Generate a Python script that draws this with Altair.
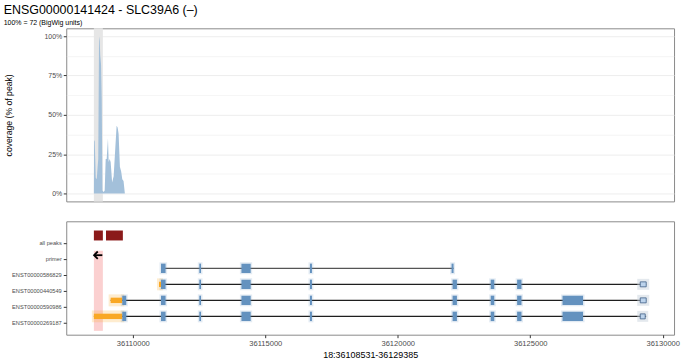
import altair as alt
import pandas as pd

TITLE = "ENSG00000141424 - SLC39A6 (–)"
SUBTITLE = "100% = 72 (BigWig units)"
X_TITLE = "18:36108531-36129385"
Y_TITLE = "coverage (% of peak)"

region_start = 36108531
region_end = 36129385

# coverage track (genomic position, % of peak)
cov_pos = [36108531, 36108538, 36108565, 36108583, 36108602, 36108639, 36108677, 36108696,
           36108726, 36108752, 36108771, 36108801, 36108827, 36108853, 36108902, 36108939,
           36108977, 36109014, 36109063, 36109089, 36109127, 36109164, 36109220, 36109277,
           36109389, 36109427, 36109464, 36109513, 36109561, 36109603, 36109651, 36109700]
cov_pct = [0, 34, 33, 22, 10, 9, 18, 22,
           100, 97, 88, 82, 60, 2, 1, 2,
           22, 22, 35, 20, 22, 20, 7, 11,
           43, 42, 38, 17, 14, 9, 8, 0]

# rows of the lower panel, bottom to top
row_names = ["ENST00000269187", "ENST00000590986", "ENST00000440549",
             "ENST00000586829", "primer", "all peaks"]

peak_start = [36108531, 36108988]
peak_end = [36108870, 36109625]

primer_start = [36108538]
primer_end = [36108850]

tx_ids = ["ENST00000586829", "ENST00000440549", "ENST00000590986", "ENST00000269187"]
tx_start = [36111064, 36110989, 36109164, 36108531]
tx_end = [36122106, 36129377, 36129377, 36129377]
tx_line_color = ["#555555", "#1f1f1f", "#1f1f1f", "#1f1f1f"]

exons_586829 = [(36111064, 36111237), (36112511, 36112575), (36114100, 36114449),
                (36116686, 36116761), (36122031, 36122106)]
exons_440549 = [(36111064, 36111237), (36112511, 36112575), (36114100, 36114449),
                (36116686, 36116761), (36122069, 36122233), (36123508, 36123643),
                (36124505, 36124670)]
exons_590986 = [(36109603, 36109753), (36111064, 36111237), (36112511, 36112575),
                (36114100, 36114449), (36116686, 36116761), (36122069, 36122233),
                (36123508, 36123643), (36124505, 36124670), (36126218, 36126993)]
exons_269187 = [(36109603, 36109753), (36111064, 36111237), (36112511, 36112575),
                (36114100, 36114449), (36116686, 36116761), (36122069, 36122233),
                (36123508, 36123643), (36124505, 36124670), (36126218, 36126993)]

utr_tx = ["ENST00000440549", "ENST00000590986", "ENST00000269187"]
utr_start = [36110989, 36109164, 36108531]
utr_end = [36111064, 36109603, 36109603]

endbox_tx = ["ENST00000440549", "ENST00000590986", "ENST00000269187"]
endbox_start = [36129152, 36129152, 36129152]
endbox_end = [36129377, 36129377, 36129340]

x_major = [36110000, 36115000, 36120000, 36125000, 36130000]
x_minor = [36112500, 36117500, 36122500, 36127500]
y_major = [0, 0.25, 0.5, 0.75, 1.0]
y_minor = [0.125, 0.375, 0.625, 0.875]

# ---------------------------------------------------------------- tables
row_of = {n: i + 1 for i, n in enumerate(row_names)}

cov_df = pd.DataFrame({"pos": cov_pos, "frac": [v / 100 for v in cov_pct]})
peak_df = pd.DataFrame({"start": peak_start, "end": peak_end,
                        "row": row_of["all peaks"]})
hl_df = pd.DataFrame({"start": peak_start[:1], "end": peak_end[:1],
                      "lo": min(row_of.values()) - 0.5,
                      "hi": max(row_of.values()) - 0.5})
primer_df = pd.DataFrame({"start": primer_start, "end": primer_end,
                          "row": row_of["primer"]})
tx_df = pd.DataFrame({"tx": tx_ids, "start": tx_start, "end": tx_end, "col": tx_line_color})
tx_df["row"] = tx_df["tx"].map(row_of)

ex_rows = []
for tx, exs in [("ENST00000586829", exons_586829), ("ENST00000440549", exons_440549),
                ("ENST00000590986", exons_590986), ("ENST00000269187", exons_269187)]:
    for s, e in exs:
        ex_rows.append({"tx": tx, "start": s, "end": e, "row": row_of[tx]})
ex_df = pd.DataFrame(ex_rows)
utr_df = pd.DataFrame({"tx": utr_tx, "start": utr_start, "end": utr_end})
utr_df["row"] = utr_df["tx"].map(row_of)
eb_df = pd.DataFrame({"tx": endbox_tx, "start": endbox_start, "end": endbox_end})
eb_df["row"] = eb_df["tx"].map(row_of)

# ---------------------------------------------------------------- styling
FONT = "Liberation Sans"
W = 611
TOP_H = 174
BOT_H = 114
BLUE = "#6492BF"
ORANGE = "#F9A825"
LABEL_C = "#4D4D4D"

span = region_end - region_start
x_scale = alt.Scale(domain=[region_start - 0.05 * span, region_end + 0.05 * span],
                    nice=False, zero=False)

x_is_major = "datum.value % 5000 === 0"
y_is_major = "abs(datum.value * 4 - round(datum.value * 4)) < 0.000001"

top_x_vals = sorted(x_major + x_minor)
top_x_axis = alt.Axis(
    values=top_x_vals, tickCount=len(top_x_vals), title=None, labelFlush=False,
    labelExpr=f"{x_is_major} ? format(datum.value, 'd') : ''",
    labelFontSize=7.6, labelColor=LABEL_C, labelPadding=2,
    tickSize=3, tickColor="#333333",
    tickOpacity={"condition": {"test": x_is_major, "value": 1}, "value": 0},
    grid=True, gridColor="#EBEBEB",
    gridWidth={"condition": {"test": x_is_major, "value": 0.9}, "value": 0.5},
    domain=False, labelOverlap=False,
)
top_y_vals = sorted(y_major + y_minor)
top_y_axis = alt.Axis(
    values=top_y_vals, tickCount=len(top_y_vals), title=Y_TITLE,
    labelExpr=f"{y_is_major} ? format(datum.value, '.0%') : ''",
    labelFontSize=7.0, labelColor=LABEL_C, labelPadding=1.5,
    tickSize=3, tickColor="#333333",
    tickOpacity={"condition": {"test": y_is_major, "value": 1}, "value": 0},
    grid=True, gridColor="#EBEBEB",
    gridWidth={"condition": {"test": y_is_major, "value": 0.9}, "value": 0.5},
    domain=False, labelOverlap=False,
    titleFontSize=8.7, titleFontWeight=400, titleColor="black", titlePadding=31,
)

band = alt.Chart(hl_df).mark_rect(color="#E6E6E6").encode(
    x=alt.X("start:Q", scale=x_scale, axis=None),
    x2="end:Q",
    y=alt.value(0), y2=alt.value(TOP_H),
)
area = alt.Chart(cov_df).mark_area(color="#A3C0DA", opacity=1).encode(
    x=alt.X("pos:Q", scale=x_scale, axis=top_x_axis),
    y=alt.Y("frac:Q", scale=alt.Scale(domain=[-0.05, 1.05], nice=False, zero=False),
            axis=top_y_axis),
)
top = alt.layer(band, area).properties(width=W, height=TOP_H)

# lower panel
y_scale_b = alt.Scale(domain=[min(row_of.values()) - 0.74, max(row_of.values()) + 1.34],
                      nice=False, zero=False)
label_expr = " : ".join(f"datum.value == {row_of[n]} ? '{n}'" for n in row_names) + " : ''"
bot_y_vals = sorted(row_of.values())
bot_y_axis = alt.Axis(values=bot_y_vals, tickCount=len(bot_y_vals), title=None,
                      labelExpr=label_expr,
                      labelFontSize=5.7, labelColor=LABEL_C, labelPadding=2,
                      labelOverlap=False,
                      tickSize=3, tickColor="#333333", grid=False, domain=False)
bot_x_axis = alt.Axis(values=x_major, tickCount=len(x_major), format="d", title=X_TITLE,
                      labelFlush=False,
                      labelFontSize=7.6, labelColor=LABEL_C, labelPadding=2,
                      labelOverlap=False,
                      tickSize=3, tickColor="#333333", grid=False, domain=False,
                      titleFontSize=9, titleFontWeight=400, titleColor="black",
                      titlePadding=3)

hl = alt.Chart(hl_df).mark_rect(color="#FBD0D0").encode(
    x=alt.X("start:Q", scale=x_scale, axis=bot_x_axis),
    x2="end:Q",
    y=alt.Y("lo:Q", scale=y_scale_b, axis=bot_y_axis),
    y2="hi:Q",
)
peaks = alt.Chart(peak_df).mark_rect(color="#8B1A1A", yOffset=-12.3, y2Offset=-2.3).encode(
    x="start:Q", x2="end:Q", y="row:Q", y2="row:Q")
primer_line = alt.Chart(primer_df).mark_rule(color="black", strokeWidth=1.8, yOffset=-3.6).encode(
    x="start:Q", x2="end:Q", y="row:Q")
primer_head = alt.Chart(primer_df).mark_point(
    shape="M1,-1L0,0L1,1", filled=False, color="black", strokeWidth=1.8,
    size=55, opacity=1, yOffset=-3.6).encode(x="start:Q", y="row:Q")
introns = alt.Chart(tx_df).mark_rule(strokeWidth=1.3, yOffset=-6.5).encode(
    x="start:Q", x2="end:Q", y="row:Q",
    color=alt.Color("col:N", scale=None))
utr_halo = alt.Chart(utr_df).mark_rect(color=ORANGE, opacity=0.22, xOffset=-2, x2Offset=2,
                                       yOffset=-12.5, y2Offset=-0.5).encode(
    x="start:Q", x2="end:Q", y="row:Q", y2="row:Q")
ex_halo = alt.Chart(ex_df).mark_rect(color=BLUE, opacity=0.18, xOffset=-1.5, x2Offset=1.5,
                                     yOffset=-12.5, y2Offset=-0.5).encode(
    x="start:Q", x2="end:Q", y="row:Q", y2="row:Q")
eb_halo = alt.Chart(eb_df).mark_rect(color="#C9D3DE", opacity=0.5, xOffset=-3, x2Offset=3,
                                     yOffset=-12, y2Offset=-1).encode(
    x="start:Q", x2="end:Q", y="row:Q", y2="row:Q")
utrs = alt.Chart(utr_df).mark_rect(color=ORANGE, yOffset=-9.2, y2Offset=-3.8).encode(
    x="start:Q", x2="end:Q", y="row:Q", y2="row:Q")
exons = alt.Chart(ex_df).mark_rect(color=BLUE, yOffset=-11.2, y2Offset=-1.8).encode(
    x="start:Q", x2="end:Q", y="row:Q", y2="row:Q")
endboxes = alt.Chart(eb_df).mark_rect(fill="#BCD3EC", stroke="#3F5F86", strokeWidth=0.8,
                                      yOffset=-9, y2Offset=-4).encode(
    x="start:Q", x2="end:Q", y="row:Q", y2="row:Q")

bottom = alt.layer(hl, peaks, primer_line, primer_head, introns, utr_halo, ex_halo, eb_halo,
                   utrs, exons, endboxes).properties(width=W, height=BOT_H)

chart = alt.vconcat(top, bottom, spacing=18).properties(
    title=alt.TitleParams(TITLE, subtitle=SUBTITLE, anchor="start", font=FONT,
                          fontSize=12.5, fontWeight=400, color="black",
                          subtitleFont=FONT, subtitleFontSize=7, subtitleColor="black",
                          subtitlePadding=2, offset=2),
    padding={"left": 3.6, "top": 3.5, "right": 2, "bottom": 1},
    background="white",
).configure_view(stroke="#8A8A8A", strokeWidth=1).configure_axis(
    labelFont=FONT, titleFont=FONT, titleFontWeight=400, labelOverlap=False)

chart.save("out.html", embed_options={"renderer": "svg", "actions": False})
